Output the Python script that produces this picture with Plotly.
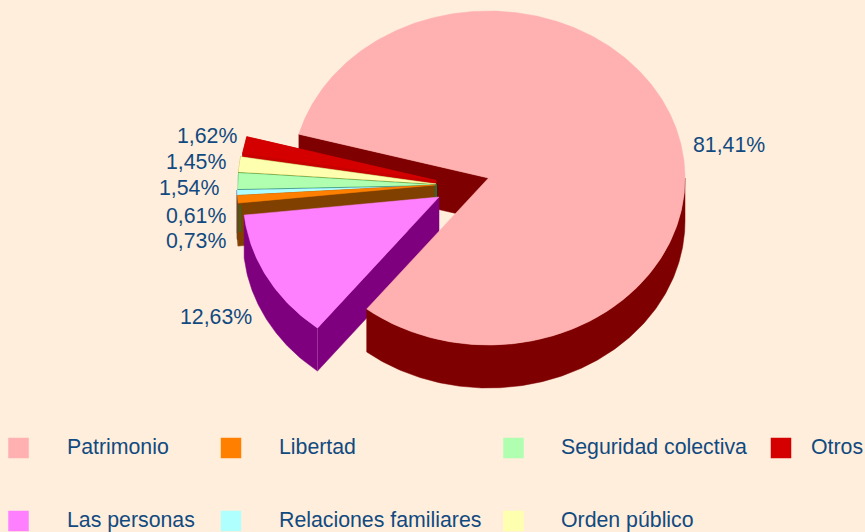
import numpy as np
import plotly.graph_objects as go

categories = ["Patrimonio", "Las personas", "Libertad", "Relaciones familiares",
              "Seguridad colectiva", "Orden público", "Otros"]
values = [81.41, 12.63, 0.73, 0.61, 1.54, 1.45, 1.62]

top_colors = ["#FFB0B0", "#FF80FF", "#FF8000", "#B0FFFF", "#B0FFB0", "#FFFFB0", "#D40000"]
side_colors = ["#7F0000", "#7F007F", "#804000", "#304890", "#008040", "#808000", "#C80000"]

# style / layout parameters (pixel space of an 865x532 canvas)
W, H = 865, 532
BG = "#FFEEDC"
TXT = "#114A80"
RY, DEPTH = 167, 43
radii_x = [196.5, 196, 198, 198, 198, 198, 196]
START = 164.8
centers = [(488.5, 178), (439, 197), (435, 185), (435, 186), (436, 185), (436, 184), (436, 180.5)]
label_pos = [(729, 145), (216, 317), (196, 241), (196, 216), (189, 188), (196, 162), (207, 136)]
legend_col_mark = [18.5, 231, 513.5, 781]
legend_col_text = [64.5, 276.5, 558.5, 808.5]
legend_row = [448, 521]
legend_text_row = [446.5, 519.5]
legend_order = [0, 2, 4, 6, 1, 3, 5]
FONT_SIZE = 21.3

# angles, clockwise from START, from the values
total = sum(values)
edges = START - np.concatenate([[0], np.cumsum(values)]) / total * 360


def arc(i, a0, a1, dz=0, n=None):
    cx, cy = centers[i]
    n = n or max(4, int(abs(a1 - a0) * 1.5))
    t = np.radians(np.linspace(a0, a1, n))
    return cx + radii_x[i] * np.cos(t), cy - RY * np.sin(t) + dz


fig = go.Figure()


def poly(xs, ys, color, name):
    fig.add_trace(go.Scatter(x=xs, y=ys, mode="lines", fill="toself", fillcolor=color,
                             line=dict(color=color, width=0.5), name=name,
                             hoverinfo="name", showlegend=False))


def radial_wall(i, a):
    cx, cy = centers[i]
    x, y = arc(i, a, a, n=1)
    poly([cx, x[0], x[0], cx, cx], [cy, y[0], y[0] + DEPTH, cy + DEPTH, cy],
         side_colors[i], categories[i])


def outer_wall(i, a0, a1):
    x0, y0 = arc(i, a0, a1)
    poly(np.r_[x0, x0[::-1], x0[0]], np.r_[y0, y0[::-1] + DEPTH, y0[0]],
         side_colors[i], categories[i])


def top(i):
    cx, cy = centers[i]
    x, y = arc(i, edges[i], edges[i + 1])
    poly(np.r_[cx, x, cx], np.r_[cy, y, cy], top_colors[i], categories[i])


# back radial wall of the large slice
radial_wall(0, edges[0])

# small exploded slices, back to front
for i in [6, 5, 4, 3, 2]:
    outer_wall(i, edges[i], edges[i + 1])
    radial_wall(i, edges[i + 1])
    radial_wall(i, edges[i])
    top(i)

# thin side edge of "Seguridad colectiva" showing through
for xp, y0p, y1p in [(240, 205, 232), (436, 184, 198)]:
    fig.add_trace(go.Scatter(x=[xp, xp], y=[y0p, y1p], mode="lines",
                             line=dict(color=side_colors[4], width=1.2),
                             hoverinfo="skip", showlegend=False))

# "Las personas"
outer_wall(1, edges[1], edges[2])
radial_wall(1, edges[1])
top(1)
xe, ye = arc(1, edges[1], edges[1], n=1)
fig.add_trace(go.Scatter(x=[xe[0], xe[0]], y=[ye[0], ye[0] + DEPTH], mode="lines",
                         line=dict(color="#A040A0", width=0.7),
                         hoverinfo="skip", showlegend=False))

# large slice: outer wall and top, the visible lower part
outer_wall(0, 0, edges[1])
top(0)

# legend markers
for pos, i in enumerate(legend_order):
    col = pos if pos < 4 else pos - 4
    row = 0 if pos < 4 else 1
    fig.add_trace(go.Scatter(x=[legend_col_mark[col]], y=[legend_row[row]], mode="markers",
                             marker=dict(symbol="square", size=20.5, color=top_colors[i],
                                         line=dict(width=0)),
                             name=categories[i], hoverinfo="name", showlegend=False))
    fig.add_annotation(x=legend_col_text[col], y=legend_text_row[row], text=categories[i],
                       showarrow=False, xanchor="left", yanchor="middle",
                       font=dict(family="Liberation Sans", size=FONT_SIZE, color=TXT))

# value labels
for (lx, ly), v in zip(label_pos, values):
    fig.add_annotation(x=lx, y=ly, text=f"{v:.2f}%".replace(".", ","), showarrow=False,
                       xanchor="center", yanchor="middle",
                       font=dict(family="Liberation Sans", size=FONT_SIZE, color=TXT))

fig.update_layout(width=W, height=H, margin=dict(l=0, r=0, t=0, b=0),
                  paper_bgcolor=BG, plot_bgcolor=BG, showlegend=False,
                  xaxis=dict(range=[0, W], visible=False, fixedrange=True),
                  yaxis=dict(range=[H, 0], visible=False, fixedrange=True))

fig.write_html("out.html", config={"displayModeBar": False},
               post_script="document.body.style.margin='0';document.body.style.overflow='hidden';")
